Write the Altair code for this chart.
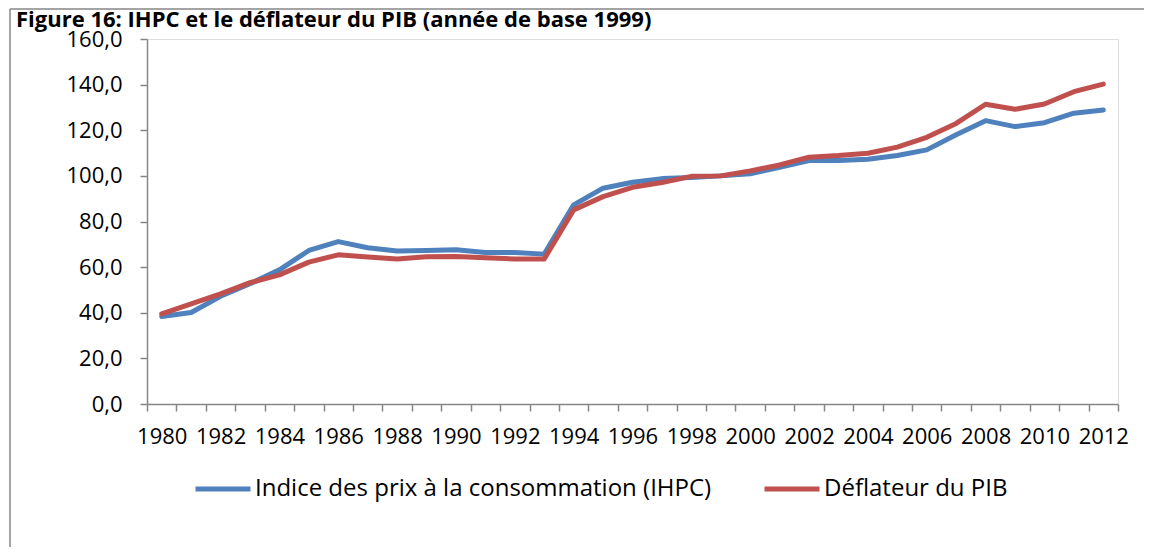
import altair as alt
import pandas as pd

years = list(range(1980, 2013))
ihpc = [38.4, 40.1, 47.2, 52.7, 58.8, 67.3, 71.2, 68.5, 67.1, 67.3, 67.6,
        66.4, 66.4, 65.7, 87.3, 94.6, 97.2, 98.8, 99.3, 100.0, 100.9, 103.8,
        106.7, 106.7, 107.3, 108.9, 111.4, 118.0, 124.2, 121.6, 123.3, 127.5,
        128.9]
deflateur = [39.5, 43.9, 48.3, 53.2, 56.6, 62.2, 65.4, 64.4, 63.6, 64.5,
             64.7, 64.1, 63.6, 63.6, 85.1, 90.9, 95.0, 97.1, 99.8, 100.0,
             102.2, 104.8, 108.2, 108.9, 109.9, 112.6, 116.9, 123.0, 131.4,
             129.2, 131.5, 136.9, 140.2]
series_names = ["Indice des prix à la consommation (IHPC)", "Déflateur du PIB"]
series_colors = ["#4F81BD", "#C0504D"]
title_text = "Figure 16: IHPC et le déflateur du PIB (année de base 1999)"

rows = []
for name, vals in zip(series_names, [ihpc, deflateur]):
    for y, v in zip(years, vals):
        rows.append({"annee": y, "valeur": v, "serie": name})
df = pd.DataFrame(rows)

FONT = "Open Sans"
GRAY = "#868686"

lines = alt.Chart(df).mark_line(strokeWidth=5, strokeCap="round", strokeJoin="round").encode(
    x=alt.X("annee:O",
            scale=alt.Scale(type="band", paddingInner=0, paddingOuter=0),
            axis=alt.Axis(title=None, tickBand="extent", labelAngle=0,
                          labelExpr="datum.value % 2 == 0 ? datum.label : ''",
                          labelOverlap=False, labelFont=FONT, labelFontSize=22,
                          labelColor="#000000", labelPadding=15,
                          tickColor=GRAY, tickSize=7, tickWidth=1.5,
                          domainColor=GRAY, domainWidth=1.5)),
    y=alt.Y("valeur:Q",
            scale=alt.Scale(domain=[0, 160], nice=False, zero=True),
            axis=alt.Axis(title=None, values=[0, 20, 40, 60, 80, 100, 120, 140, 160],
                          labelExpr="replace(format(datum.value, '.1f'), '.', ',')",
                          grid=False, labelFont=FONT, labelFontSize=22,
                          labelColor="#000000", labelPadding=18,
                          tickColor=GRAY, tickSize=7, tickWidth=1.5,
                          domainColor=GRAY, domainWidth=1.5)),
    color=alt.Color("serie:N",
                    scale=alt.Scale(domain=series_names, range=series_colors),
                    sort=series_names,
                    legend=alt.Legend(title=None, orient="none", direction="horizontal",
                                      legendX=46, legendY=420,
                                      symbolType="stroke", symbolSize=3025,
                                      symbolStrokeWidth=5, labelOffset=2,
                                      columnPadding=42,
                                      labelFont=FONT, labelFontSize=24,
                                      labelColor="#000000", labelLimit=0)),
)

one = pd.DataFrame({"a": [0]})

# outer chart frame (decoration)
frame_left = alt.Chart(one).mark_rule(color=GRAY, strokeWidth=1.5).encode(
    x=alt.value(-137), y=alt.value(-30), y2=alt.value(600))
frame_top = alt.Chart(one).mark_rule(color=GRAY, strokeWidth=1.5).encode(
    x=alt.value(-137), x2=alt.value(1100), y=alt.value(-30))

title = alt.Chart(one).mark_text(
    text=title_text, align="left", baseline="alphabetic",
    font=FONT, fontSize=22, fontWeight="bold", color="#000000"
).encode(x=alt.value(-131), y=alt.value(-12))

chart = alt.layer(frame_left, frame_top, title, lines).properties(
    width=971, height=365,
    autosize=alt.AutoSizeParams(type="none"),
    padding={"left": 139, "top": 31, "right": 26, "bottom": 143},
).configure_view(stroke=None).configure(background="white")

chart.save("out.html", embed_options={"renderer": "svg", "actions": False})
